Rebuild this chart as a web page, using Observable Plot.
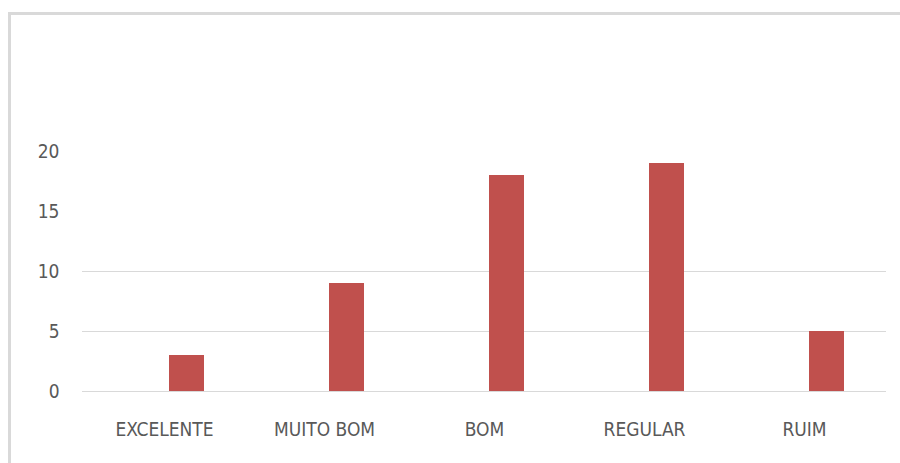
<!DOCTYPE html>
<html>
<head>
<meta charset="utf-8">
<script src="https://cdn.jsdelivr.net/npm/d3@7"></script>
<script src="https://cdn.jsdelivr.net/npm/@observablehq/plot@0.6"></script>
<style>
  html, body { margin: 0; padding: 0; background: #fff; overflow: hidden; }
  #wrap { position: relative; width: 900px; height: 463px; }
  #border { position: absolute; left: 8px; top: 12px; width: 1000px; height: 1000px;
            border: 3px solid #d9d9d9; box-sizing: border-box; pointer-events: none; }
</style>
</head>
<body>
<div id="wrap"><div id="border"></div></div>
<script>
const categories = ["EXCELENTE", "MUITO BOM", "BOM", "REGULAR", "RUIM"];
const values = [3, 9, 18, 19, 5];
const yTicks = [0, 5, 10, 15, 20];
const gridValues = [0, 5, 10];

const data = categories.map((c, i) => ({category: c, value: values[i]}));

const chart = Plot.plot({
  width: 900,
  height: 463,
  marginLeft: 82,
  marginRight: 14,
  marginTop: 151,
  marginBottom: 72,
  style: {fontFamily: "'DejaVu Sans Condensed', 'Liberation Sans Narrow', sans-serif", fontSize: "19px", color: "#595959", background: "transparent"},
  x: {domain: categories, padding: 0, label: null},
  y: {domain: [0, 20], label: null},
  marks: [
    Plot.ruleY(gridValues, {stroke: "#d9d9d9", strokeWidth: 1.2}),
    Plot.barY(data, {x: "category", y: "value", fill: "#c0504d", insetLeft: 85, insetRight: 40}),
    Plot.axisX({tickSize: 0, tickPadding: 31, fill: "#595959", fontSize: 19}),
    Plot.axisY({ticks: yTicks, tickSize: 0, tickPadding: 23, fill: "#595959", fontSize: 19})
  ]
});
document.getElementById("wrap").prepend(chart);
</script>
</body>
</html>
